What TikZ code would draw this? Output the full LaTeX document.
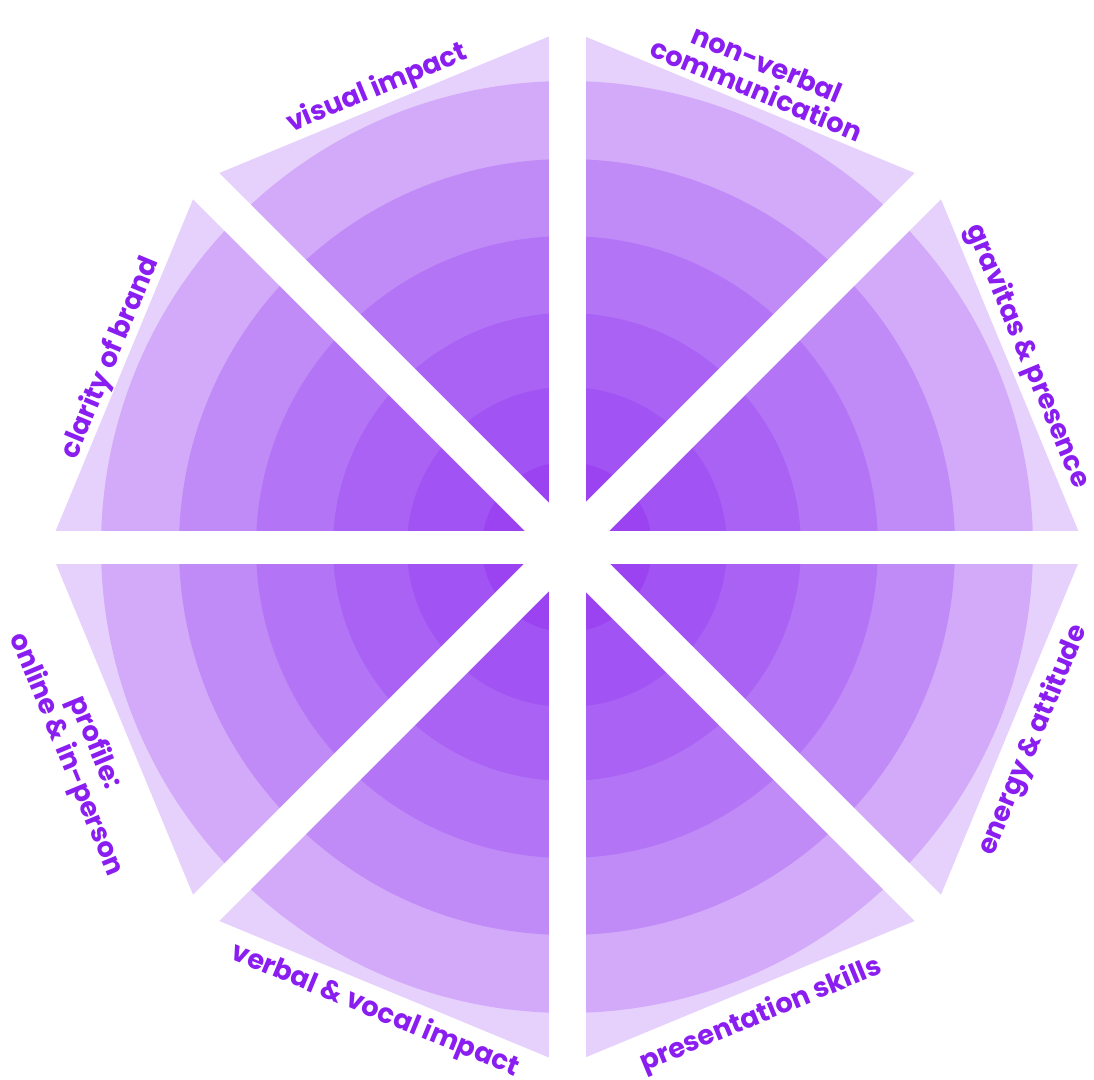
\documentclass[tikz,border=0pt]{standalone}
\usepackage{fontspec}
\setmainfont{Poppins}
\usepackage{tikz}

\definecolor{ring0}{HTML}{E6D0FC}
\definecolor{ring6}{HTML}{D3AAF9}
\definecolor{ring5}{HTML}{C18BF7}
\definecolor{ring4}{HTML}{B375F5}
\definecolor{ring3}{HTML}{AA62F5}
\definecolor{ring2}{HTML}{A253F3}
\definecolor{ring1}{HTML}{9B43F1}
\definecolor{labelpurple}{HTML}{8A1EF0}

\begin{document}
\begin{tikzpicture}[
  x=0.2mm, y=0.2mm,
  lbl/.style={text=labelpurple, font=\fontsize{15.5}{16}\selectfont\bfseries, align=center, inner sep=0pt},
  gap/.style={draw=white, line width=#1}
]
\useasboundingbox (-567,-532) rectangle (527,547);

% octagon with the rings inside
\begin{scope}
  \clip (0:518) \foreach \a in {45,90,...,315} { -- (\a:518) } -- cycle;
  \fill[ring0] (-600,-600) rectangle (600,600);
  \foreach \r/\c in {466/ring6, 388/ring5, 311/ring4, 234/ring3, 160/ring2, 85/ring1}
    \fill[\c] (0,0) circle (\r);
\end{scope}

% white gaps between the sectors
\draw[gap=6.6mm] (0:560) -- (180:560);
\draw[gap=7.4mm] (90:560) -- (270:560);
\draw[gap=7.4mm] (45:560) -- (225:560);
\draw[gap=7.4mm] (135:560) -- (315:560);

% labels
\node[lbl, rotate=22.5] (visual) at (112.5:496) {visual impact};
\node[lbl, rotate=-22.5] (nonverbal) at (67.5:509) {non-verbal\\communication};
\node[lbl, rotate=-67.5] (gravitas) at (22.5:498) {gravitas \& presence};
\node[lbl, rotate=67.5] (energy) at (-22.5:505) {energy \& attitude};
\node[lbl, rotate=22.5] (presentation) at (-67.5:507) {presentation skills};
\node[lbl, rotate=-22.5] (verbal) at (-112.5:502) {verbal \& vocal impact};
\node[lbl, rotate=-67.5] (profile) at (-157.5:527) {profile:\\online \& in-person};
\node[lbl, rotate=67.5] (clarity) at (157.5:494) {clarity of brand};
\end{tikzpicture}
\end{document}
